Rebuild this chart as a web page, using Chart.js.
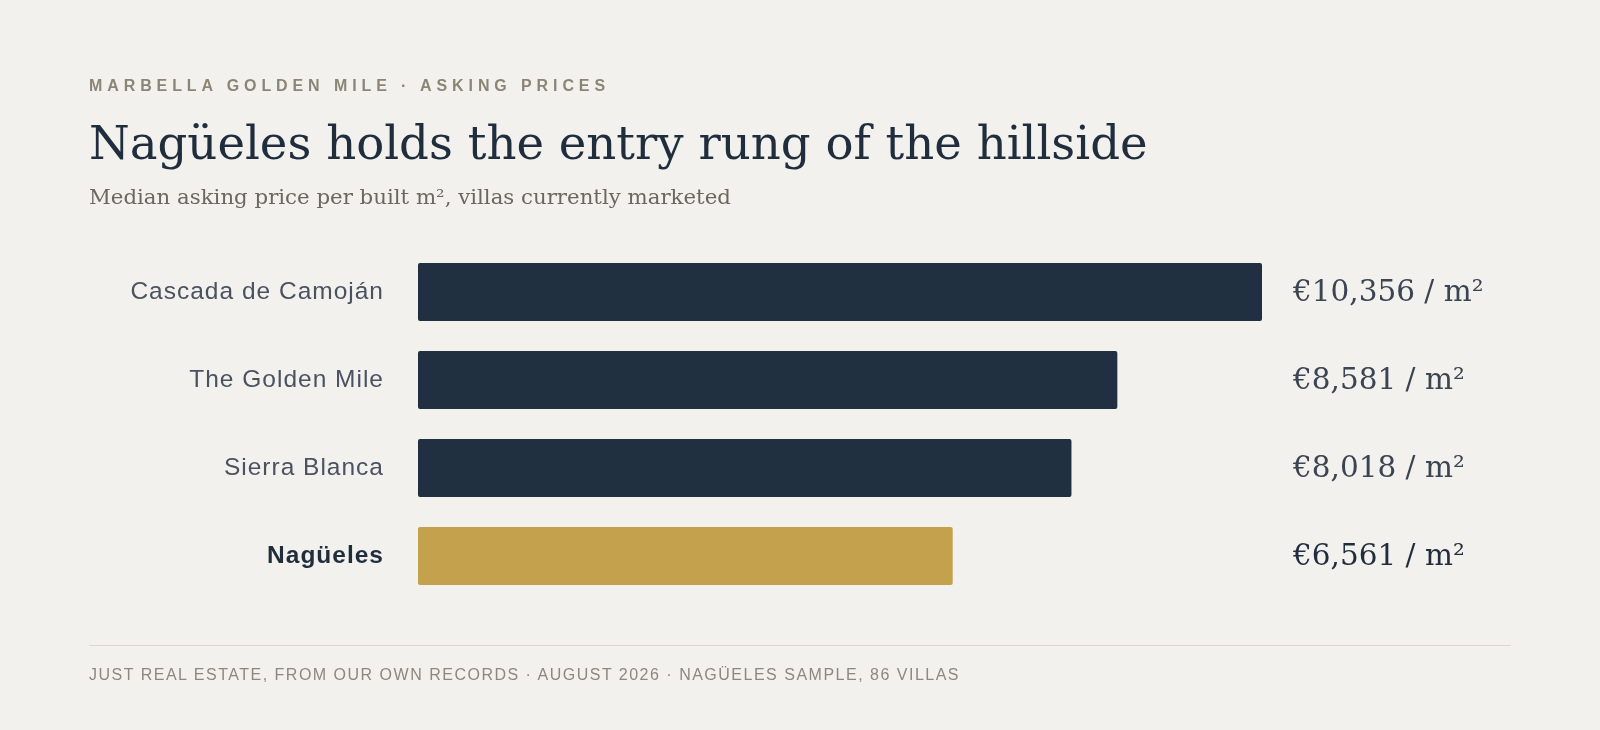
<!DOCTYPE html>
<html>
<head>
<meta charset="utf-8">
<script src="https://cdn.jsdelivr.net/npm/chart.js@4"></script>
<style>
  html, body { margin: 0; padding: 0; background: #f3f1ed; }
  body { width: 1600px; height: 730px; position: relative; overflow: hidden; }
  #chart { position: absolute; left: 0; top: 0; }
  .t { position: absolute; left: 89px; white-space: nowrap; margin: 0; }
  #eyebrow { top: 78px; font: bold 16px/16px "Liberation Sans", Arial, sans-serif; letter-spacing: 4.9px; color: #8a8676; }
  #title { top: 120px; font: 46.6px/47px "DejaVu Serif", serif; color: #1f2d3d; }
  #subtitle { top: 186px; font: 21.3px/22px "DejaVu Serif", serif; color: #6b675f; }
  #rule { position: absolute; left: 89px; top: 645px; width: 1422px; height: 1px; background: #dcd7cf; }
  #footer { top: 667px; font: 16px/16px "Liberation Sans", Arial, sans-serif; letter-spacing: 1.5px; color: #8b887f; }
</style>
</head>
<body>
<canvas id="chart" width="1600" height="730"></canvas>
<div class="t" id="eyebrow">MARBELLA GOLDEN MILE · ASKING PRICES</div>
<div class="t" id="title">Nagüeles holds the entry rung of the hillside</div>
<div class="t" id="subtitle">Median asking price per built m², villas currently marketed</div>
<div id="rule"></div>
<div class="t" id="footer">JUST REAL ESTATE, FROM OUR OWN RECORDS · AUGUST 2026 · NAGÜELES SAMPLE, 86 VILLAS</div>
<script>
// ---- data ----
const categories = ["Cascada de Camoján", "The Golden Mile", "Sierra Blanca", "Nagüeles"];
const pricePerM2 = [10356, 8581, 8018, 6561];
const highlight = "Nagüeles";
const unitSuffix = " / m²";

// ---- styles ----
const NAVY = "#213040";
const GOLD = "#c4a14d";
const isHi = (i) => categories[i] === highlight;

const valueLabels = {
  id: "valueLabels",
  afterDatasetsDraw(chart) {
    const ctx = chart.ctx;
    const meta = chart.getDatasetMeta(0);
    ctx.save();
    ctx.letterSpacing = "0px";
    ctx.font = '29.5px "DejaVu Serif", serif';
    ctx.textAlign = "left";
    ctx.textBaseline = "middle";
    meta.data.forEach((bar, i) => {
      const v = chart.data.datasets[0].data[i];
      ctx.fillStyle = isHi(i) ? "#1f2d3d" : "#3a4452";
      ctx.fillText("€" + v.toLocaleString("en-US") + unitSuffix, chart.chartArea.right + 31, bar.y + 1);
    });
    ctx.restore();
  }
};

const spacing = {
  id: "spacing",
  beforeDraw(chart) { chart.ctx.letterSpacing = "1px"; },
  afterDraw(chart) { chart.ctx.letterSpacing = "0px"; }
};

new Chart(document.getElementById("chart"), {
  type: "bar",
  data: {
    labels: categories,
    datasets: [{
      data: pricePerM2,
      backgroundColor: categories.map((c, i) => isHi(i) ? GOLD : NAVY),
      borderRadius: 2,
      borderSkipped: false,
      barPercentage: 0.66,
      categoryPercentage: 1
    }]
  },
  options: {
    indexAxis: "y",
    responsive: false,
    animation: false,
    events: [],
    layout: { padding: { top: 248, bottom: 130, left: 0, right: 338 } },
    plugins: { legend: { display: false }, tooltip: { enabled: false } },
    scales: {
      x: {
        display: false,
        min: 0,
        max: Math.max(...pricePerM2)
      },
      y: {
        grid: { display: false },
        border: { display: false },
        afterFit(scale) { scale.width = 418; },
        ticks: {
          padding: 26,
          color: (c) => isHi(c.index) ? "#1f2d3d" : "#4a5261",
          font: (c) => isHi(c.index)
            ? { family: '"Liberation Sans", Arial, sans-serif', size: 24.5, weight: "bold" }
            : { family: '"Liberation Sans", Arial, sans-serif', size: 24.5, weight: "normal" }
        }
      }
    }
  },
  plugins: [spacing, valueLabels]
});
</script>
</body>
</html>
